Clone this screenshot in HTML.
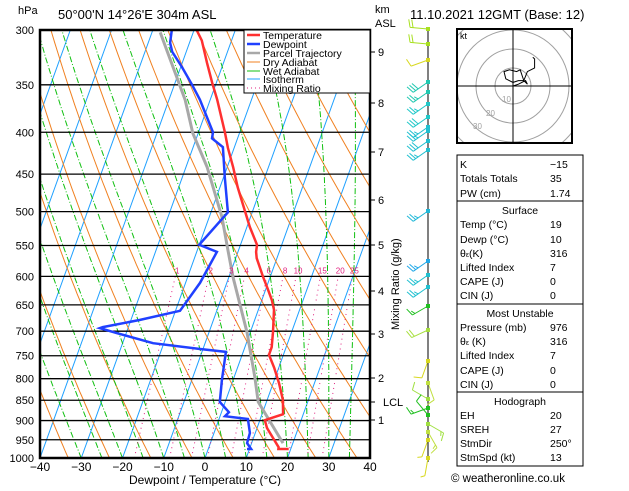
<!DOCTYPE html>
<html><head><meta charset="utf-8"><style>
body{margin:0;background:#fff;width:629px;height:486px;overflow:hidden;font-family:"Liberation Sans",sans-serif}
svg text{font-family:"Liberation Sans",sans-serif}
</style></head><body>
<svg id="c" width="629" height="486" xmlns="http://www.w3.org/2000/svg">
<defs><clipPath id="pc"><rect x="40" y="30" width="330" height="428"/></clipPath>
<clipPath id="hc"><rect x="457" y="29" width="115" height="114"/></clipPath></defs>
<g id="bg" clip-path="url(#pc)"></g>
<g id="prof" clip-path="url(#pc)"></g>
<g id="axes"></g>
</svg>
<script>
// ---- data ----
const tempP=[975,975,970,919,899,884,849,810,776,748,732,702,659,641,618,601,570,560,549,522,498,467,441,418,400,365,348,329,309,300];
const tempT=[19.5,17,16.9,12.4,11.2,15.1,13.8,11.4,8.9,6.5,6.5,5.5,3.8,2.4,0.1,-1.7,-4.9,-5.6,-6.0,-9.3,-12.0,-15.7,-18.6,-21.5,-23.6,-28.3,-31.0,-34.0,-37.2,-39.4];
const dewP=[975,975,959,932,896,889,879,854,803,742,736,724,704,694,692,678,661,611,560,549,501,454,417,407,400,365,350,333,319,311,300];
const dewT=[9.4,10.4,8.9,8.7,7.0,1.2,1.8,-1.3,-2.7,-4.2,-10.7,-22.6,-32.2,-36.8,-36.2,-27.8,-18.9,-16.5,-15.1,-20.0,-15.9,-19.7,-22.8,-26.2,-26.5,-32.5,-35.7,-39.7,-43.4,-44.7,-45.4];
const parP=[959,854,796,702,601,557,508,441,401,365,302];
const parT=[17.6,8.0,5.0,-0.8,-9.0,-12.6,-16.9,-24.9,-31.3,-36.1,-48.0];
const pTicks=[300,350,400,450,500,550,600,650,700,750,800,850,900,950,1000];
const tTicks=[-40,-30,-20,-10,0,10,20,30,40];
const mixW=[1,2,3,4,6,8,10,15,20,25];
const kmLabels=['9','8','7','6','5','4','3','2','LCL','1'];
const kmY=[52,103,152,200,245,291,334,378,402,420];
const barbY=[29,44,60,82,92,104,117,127,131,141,150,211,261,275,287,306,330,361,383,399,408,415,424,432,440,458];
const barbDir=[275,275,250,235,235,235,235,235,235,235,235,235,235,235,235,240,245,200,160,300,250,320,120,150,200,190];
const barbSpd=[20,20,10,30,25,25,30,25,25,30,25,25,25,25,25,15,20,10,10,10,15,10,15,15,5,5];
const barbCol=['#a8e020','#a8e020','#d8d820','#20c8b0','#20c8b0','#20c8c8','#20c8c8','#20c0d0','#20c0d0','#20c0d0','#20c0d0','#20b8d8','#20a8e8','#20c0d0','#20c0d0','#20c020','#a8e040','#d8d820','#c0e040','#a0e040','#20c020','#20c020','#a0e040','#c0e040','#d8d820','#d8d820'];
const hodoU=[0,3,7,8,6,3,0,-4,-5,-2,2,4,6,8,12,12,11];
const hodoV=[0,1,3,1,3,3,2,4,8,9,8,9,3,8,10,15,16];
// ---- scales ----
const L=Math.log(1000/300);
function Y(p){return 30+428*Math.log(p/300)/L}
function X(t,p){return 40+(t+40)*4.125+(458-Y(p))*0.36}
const NS='http://www.w3.org/2000/svg';
function el(tag,attrs,parent){const e=document.createElementNS(NS,tag);for(const k in attrs)e.setAttribute(k,attrs[k]);parent.appendChild(e);return e}
const bg=document.getElementById('bg'),prof=document.getElementById('prof'),ax=document.getElementById('axes');
function pathFrom(ps,ts){return ps.map((p,i)=>(i?'L':'M')+X(ts[i],p).toFixed(1)+' '+Y(p).toFixed(1)).join('')}
// isotherms
for(let t=-120;t<=40;t+=10){const e=el('line',{x1:X(t,1000),y1:Y(1000),x2:X(t,300),y2:Y(300),stroke:'#1ea0ff','stroke-width':1},bg);

}
// dry adiabats
for(let th=230;th<=470;th+=10){const ps=[],ts=[];for(let p=1000;p>=300;p-=10){ps.push(p);ts.push(th*Math.pow(p/1000,0.286)-273.15)}
const e=el('path',{d:pathFrom(ps,ts),fill:'none',stroke:'#f08020','stroke-width':1},bg);

}
// wet adiabats
function es(tc){return 6.112*Math.exp(17.67*tc/(tc+243.5))}
for(let tw=-30;tw<=45;tw+=5){let T=tw+273.15;const ps=[],ts=[];for(let p=1000;p>=300;p-=5){ps.push(p);ts.push(T-273.15);
const e=es(T-273.15),rs=0.622*e/(p-e);const dTdp=(287*T+2.5e6*rs)/(1004+2.5e6*2.5e6*rs*0.622/(287*T*T))/p;T-=dTdp*5;}
const e=el('path',{d:pathFrom(ps,ts),fill:'none',stroke:'#10c010','stroke-width':1,'stroke-dasharray':'6,2,1,2'},bg);

}
// mixing ratio
function tdw(w,p){const e=w*p/(622+w);const l=Math.log(e/6.112);return 243.5*l/(17.67-l)}
mixW.forEach(w=>{const e=el('line',{x1:X(tdw(w,1000),1000),y1:Y(1000),x2:X(tdw(w,600),600),y2:Y(600),stroke:'#e0207f','stroke-width':1,'stroke-dasharray':'1,4'},bg);


const t=el('text',{x:X(tdw(w,600),600)+2,y:Y(600)-3,'font-size':8,fill:'#e0207f','text-anchor':'middle'},ax);t.textContent=w;

});
// isobars
pTicks.forEach(p=>{const l=el('line',{x1:40,x2:370,y1:Y(p),y2:Y(p),stroke:'#000','stroke-width':1.3},prof);


const t=el('text',{x:34,y:Y(p)+4,'font-size':11,'text-anchor':'end'},ax);t.textContent=p;

});
// profiles
let e;
e=el('path',{d:pathFrom(parP,parT),fill:'none',stroke:'#a8a8a8','stroke-width':3},prof);


e=el('path',{d:pathFrom(dewP,dewT),fill:'none',stroke:'#2040ff','stroke-width':2.5},prof);


e=el('path',{d:pathFrom(tempP,tempT),fill:'none',stroke:'#ff3030','stroke-width':2.5},prof);


// frame
e=el('rect',{x:40,y:30,width:330,height:428,fill:'none',stroke:'#000','stroke-width':2.5},ax);


tTicks.forEach(t=>{const x=40+(t+40)*4.125;const tx=el('text',{x:x,y:471,'font-size':12,'text-anchor':'middle'},ax);tx.textContent=(t<0?'\u2212'+(-t):t);

});
// km axis
kmLabels.forEach((k,i)=>{el('line',{x1:370,x2:375,y1:kmY[i],y2:kmY[i],stroke:'#000'},ax);const t=el('text',{x:k=='LCL'?383:378,y:kmY[i]+4,'font-size':11},ax);t.textContent=k;

});
// barbs
e=el('line',{x1:428,x2:428,y1:29,y2:462,stroke:'#000','stroke-width':1},ax);


barbY.forEach((y,i)=>{const d=barbDir[i]*Math.PI/180,c=barbCol[i],len=18;const dx=Math.sin(d),dy=-Math.cos(d);
const g=el('g',{stroke:c,'stroke-width':1,fill:'none'},ax);


const x2=428+dx*len,y2=y+dy*len;el('line',{x1:428,y1:y,x2:x2,y2:y2},g);
el('rect',{x:426,y:y-2,width:4,height:4,fill:c,stroke:'none'},g);
let s=barbSpd[i],k=0;const px=-dy,py=dx;
while(s>=5){const f=s>=10?8:4;const bx=x2-dx*k*3,by=y2-dy*k*3;el('line',{x1:bx,y1:by,x2:bx+px*f+dx*2,y2:by+py*f+dy*2},g);s-=s>=10?10:5;k++;}});
// mixing ratio title
e=el('text',{x:0,y:0,'font-size':11,transform:'translate(399,330) rotate(-90)'},ax);e.textContent='Mixing Ratio (g/kg)';


</script>
<svg width="629" height="486" style="position:absolute;left:0;top:0" xmlns="http://www.w3.org/2000/svg">
<text x="18" y="14" font-size="11">hPa</text>
<text x="58" y="19" font-size="13">50°00'N  14°26'E  304m  ASL</text>
<text x="375" y="13" font-size="11">km</text>
<text x="375" y="27" font-size="11">ASL</text>
<text x="410" y="19" font-size="13">11.10.2021  12GMT  (Base: 12)</text>
<text x="205" y="484" font-size="12" text-anchor="middle">Dewpoint / Temperature (°C)</text>
<g>
<rect x="244" y="30" width="126" height="63" fill="#fff" stroke="#000" stroke-width="1"/>
<line x1="247" x2="260" y1="35" y2="35" stroke="#ff3030" stroke-width="2.5"/><text x="263" y="39" font-size="10.5">Temperature</text>
<line x1="247" x2="260" y1="44" y2="44" stroke="#2040ff" stroke-width="2.5"/><text x="263" y="48" font-size="10.5">Dewpoint</text>
<line x1="247" x2="260" y1="53" y2="53" stroke="#a8a8a8" stroke-width="2.5"/><text x="263" y="57" font-size="10.5">Parcel Trajectory</text>
<line x1="247" x2="260" y1="62" y2="62" stroke="#f08020"/><text x="263" y="66" font-size="10.5">Dry Adiabat</text>
<line x1="247" x2="260" y1="71" y2="71" stroke="#10c010"/><text x="263" y="75" font-size="10.5">Wet Adiabat</text>
<line x1="247" x2="260" y1="79" y2="79" stroke="#1ea0ff"/><text x="263" y="83" font-size="10.5">Isotherm</text>
<line x1="247" x2="260" y1="88" y2="88" stroke="#e0207f" stroke-dasharray="1,3"/><text x="263" y="92" font-size="10.5">Mixing Ratio</text>
</g>
<g>
<g clip-path="url(#hc)" fill="none" stroke="#a0a0a0">
<circle cx="513" cy="86" r="18"/><circle cx="513" cy="86" r="37"/><circle cx="513" cy="86" r="56"/><circle cx="513" cy="86" r="75"/>
</g>
<g stroke="#000" stroke-width="1"><line x1="457" x2="572" y1="86" y2="86"/><line x1="513" x2="513" y1="29" y2="143"/></g>
<text x="502" y="102" font-size="8" fill="#a0a0a0">10</text><text x="486" y="116" font-size="8" fill="#a0a0a0">20</text><text x="473" y="129" font-size="8" fill="#a0a0a0">30</text>
<text x="460" y="39" font-size="9">kt</text>
<path id="hp" fill="none" stroke="#000" stroke-width="1"/>
<rect x="457" y="29" width="115" height="114" fill="none" stroke="#000" stroke-width="2"/>
</g>
<g font-size="10.5">
<rect x="457" y="155" width="126" height="311" fill="#fff" stroke="#000"/>
<line x1="457" x2="583" y1="201" y2="201" stroke="#000"/><line x1="457" x2="583" y1="304" y2="304" stroke="#000"/><line x1="457" x2="583" y1="392" y2="392" stroke="#000"/>
<text x="460" y="168">K</text><text x="550" y="168">−15</text>
<text x="460" y="182">Totals Totals</text><text x="550" y="182">35</text>
<text x="460" y="197">PW (cm)</text><text x="550" y="197">1.74</text>
<text x="520" y="214" text-anchor="middle">Surface</text>
<text x="460" y="228">Temp (°C)</text><text x="550" y="228">19</text>
<text x="460" y="243">Dewp (°C)</text><text x="550" y="243">10</text>
<text x="460" y="257">θ<tspan font-size="7">ε</tspan>(K)</text><text x="550" y="257">316</text>
<text x="460" y="271">Lifted Index</text><text x="550" y="271">7</text>
<text x="460" y="285">CAPE (J)</text><text x="550" y="285">0</text>
<text x="460" y="299">CIN (J)</text><text x="550" y="299">0</text>
<text x="520" y="317" text-anchor="middle">Most Unstable</text>
<text x="460" y="331">Pressure (mb)</text><text x="550" y="331">976</text>
<text x="460" y="345">θ<tspan font-size="7">ε</tspan> (K)</text><text x="550" y="345">316</text>
<text x="460" y="359">Lifted Index</text><text x="550" y="359">7</text>
<text x="460" y="374">CAPE (J)</text><text x="550" y="374">0</text>
<text x="460" y="388">CIN (J)</text><text x="550" y="388">0</text>
<text x="520" y="405" text-anchor="middle">Hodograph</text>
<text x="460" y="419">EH</text><text x="550" y="419">20</text>
<text x="460" y="433">SREH</text><text x="550" y="433">27</text>
<text x="460" y="447">StmDir</text><text x="550" y="447">250°</text>
<text x="460" y="461">StmSpd (kt)</text><text x="550" y="461">13</text>
</g>
<text x="451" y="482" font-size="11.5">© weatheronline.co.uk</text>
</svg>
<script>
document.getElementById('hp').setAttribute('d',hodoU.map((u,i)=>(i?'L':'M')+(513+u*1.8).toFixed(1)+' '+(86-hodoV[i]*1.8).toFixed(1)).join(''));
</script>
</body></html>
